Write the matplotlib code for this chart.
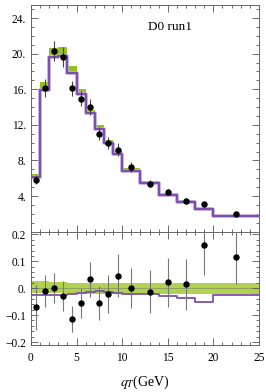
import numpy as np
from matplotlib import pyplot as plt
from matplotlib.ticker import MultipleLocator, FuncFormatter

# bin edges in q_T (GeV)
edges = [0, 1, 2, 3, 4, 5, 6, 7, 8, 9, 10, 12, 14, 16, 18, 20, 25]
centers = [0.5, 1.5, 2.5, 3.5, 4.5, 5.5, 6.5, 7.5, 8.5, 9.5, 11, 13, 15, 17, 19, 22.5]

# D0 run1 data (top panel)
data = [5.85, 16.15, 20.3, 19.6, 16.1, 14.95, 14.0, 11.0, 9.97, 9.2, 7.27, 5.4, 4.46, 3.45, 3.08, 2.03]

# theory central value (green band centre)
theory = [6.31, 16.34, 20.16, 20.25, 18.2, 15.75, 13.45, 11.69, 10.13, 8.84, 7.0, 5.54, 4.26, 3.45, 2.64, 1.81]
band_hi = [0.027, 0.026, 0.024, 0.022, 0.021, 0.02, 0.02, 0.02, 0.02, 0.02, 0.02, 0.019, 0.019, 0.018, 0.018, 0.018]
band_lo = [-0.017, -0.018, -0.018, -0.019, -0.02, -0.02, -0.021, -0.021, -0.021, -0.022, -0.022, -0.022, -0.023, -0.023, -0.023, -0.023]

# second curve, relative to theory
purple_rel = [-0.026, -0.025, -0.025, -0.024, -0.02, -0.016, -0.013, -0.012, -0.015, -0.018,
              -0.022, -0.02, -0.028, -0.037, -0.052, -0.025]

# (data - theory)/theory and its error (bottom panel)
ratio = [-0.071, -0.010, 0.0, -0.028, -0.114, -0.054, 0.034, -0.056, -0.022, 0.046,
         0.0, -0.013, 0.022, 0.015, 0.16, 0.115]
ratio_err = [0.083, 0.06, 0.055, 0.055, 0.048, 0.055, 0.065, 0.064, 0.07, 0.08,
             0.075, 0.08, 0.09, 0.095, 0.11, 0.1]

green = '#94c11f'
green_light = '#b0d250'
purple = '#7e4fae'

plt.rcParams['font.family'] = ['Liberation Serif', 'DejaVu Serif']
plt.rcParams['mathtext.fontset'] = 'stix'

e = np.array(edges, dtype=float)
th = np.array(theory)
hi = np.array(band_hi)
lo = np.array(band_lo)
pr = np.array(purple_rel)

fig = plt.figure(figsize=(2.66, 3.92), dpi=100)
ax1 = fig.add_axes([0.1165, 0.408, 0.857, 0.579])
ax2 = fig.add_axes([0.1165, 0.12, 0.857, 0.288])

def step(v):
    return np.append(v, v[-1])

# top panel
ax1.fill_between(e, step(th * (1 + lo)), step(th * (1 + hi)), step='post',
                 color=green, lw=0, zorder=1)
ax1.step(e, step(th * (1 + pr)), where='post', color='#c9b3e0', lw=2.6, zorder=2)
ax1.step(e, step(th * (1 + pr)), where='post', color=purple, lw=1.6, zorder=2.1)
ax1.errorbar(centers, data, yerr=np.array(ratio_err) * th, fmt='o', color='black',
             ms=3.6, ecolor='#444444', elinewidth=0.8, capsize=0, zorder=3)
ax1.set_xlim(0, 25)
ax1.set_ylim(-0.05, 25.45)
ax1.yaxis.set_major_locator(MultipleLocator(4))
ax1.yaxis.set_minor_locator(MultipleLocator(1))
ax1.yaxis.set_major_formatter(FuncFormatter(lambda v, p: '' if v < 1 else f'{v:.0f}.'))
ax1.set_xticklabels([])
ax1.text(0.61, 0.905, 'D0 run1', transform=ax1.transAxes, ha='center', va='center', fontsize=9.5)

# bottom panel
ax2.fill_between(e, step(lo), step(hi), step='post', color=green_light, lw=0, zorder=1)
ax2.axhline(0, color='#8a9a60', lw=0.6, zorder=1.5)
ax2.step(e, step(pr), where='post', color=purple, lw=1.3, zorder=2)
ax2.errorbar(centers, ratio, yerr=ratio_err, fmt='o', color='black',
             ms=3.6, ecolor='#777777', elinewidth=0.8, capsize=0, zorder=3)
ax2.set_xlim(0, 25)
ax2.set_ylim(-0.211, 0.209)
ax2.yaxis.set_major_locator(MultipleLocator(0.1))
ax2.yaxis.set_minor_locator(MultipleLocator(0.02))

def rfmt(v, p):
    if abs(v) < 1e-9:
        return '0.'
    return f'{v:.1f}'.replace('-', '\u2212')

ax2.yaxis.set_major_formatter(FuncFormatter(rfmt))
ax2.set_xlabel(r'$q_T$(GeV)', fontsize=10, labelpad=7)

for ax in (ax1, ax2):
    ax.xaxis.set_major_locator(MultipleLocator(5))
    ax.xaxis.set_minor_locator(MultipleLocator(1))
    ax.tick_params(which='both', direction='in', top=True, right=True,
                   labelsize=8.3, color='#555555', width=0.6)
    ax.tick_params(which='major', length=5)
    ax.tick_params(which='minor', length=2.5)
    ax.tick_params(axis='x', pad=5)
    for s in ax.spines.values():
        s.set_color('#666666')
        s.set_linewidth(0.7)

plt.savefig('out.png', dpi=100)
